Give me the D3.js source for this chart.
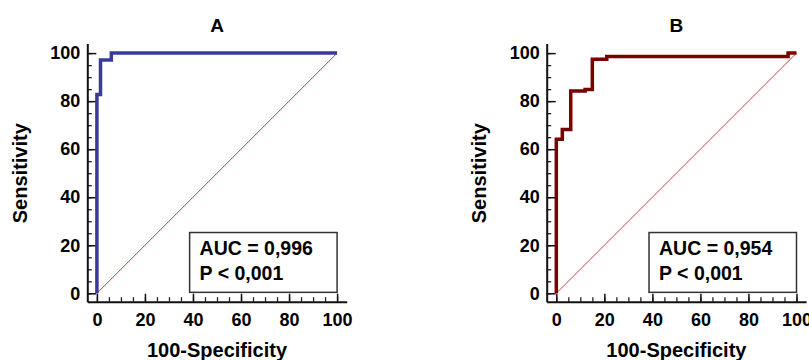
<!DOCTYPE html>
<head>
  <meta charset="utf-8">
  <script src="https://d3js.org/d3.v7.min.js"></script>
  <style>
body { margin: 0; background: #fff; }
svg { font-family: "Liberation Sans", Arial, sans-serif; font-weight: bold; }
  </style>
</head>
<body>
<svg width="809" height="360"></svg>
<script>
// ROC points (100-specificity, sensitivity), drawn as steps
var panelA_fpr = [0, 0, 1.5, 6, 100];
var panelA_tpr = [0, 82.8, 97.1, 100, 100];
var panelB_fpr = [0, 0, 2.5, 6, 12, 15, 21, 96.5, 100];
var panelB_tpr = [0, 64.1, 68.2, 84.2, 84.9, 97.4, 98.6, 100, 100];
var titles = ["A", "B"];
var aucText = ["AUC = 0,996", "AUC = 0,954"];
var pText = ["P < 0,001", "P < 0,001"];
var curveColors = ["#3a3a9c", "#7a0000"];
var majorTicks = [0, 20, 40, 60, 80, 100];
var minorTicks = d3.range(0, 101, 5);

var svg = d3.select("svg");

var panels = [
  {fpr: panelA_fpr, tpr: panelA_tpr, dx: 0},
  {fpr: panelB_fpr, tpr: panelB_tpr, dx: 459.4}
];

panels.forEach(function(p, i) {
  var g = svg.append("g").attr("transform", "translate(" + p.dx + ",0)");

  var x = d3.scaleLinear().domain([-4, 104]).range([87.3, 346.7]);
  var y = d3.scaleLinear().domain([-3.5, 104]).range([301.7, 43.5]);

  // minor ticks
  g.append("g")
    .attr("transform", "translate(" + x(-4) + ",0)")
    .call(d3.axisLeft(y).tickValues(minorTicks).tickSize(-4.5).tickFormat(""))
    .call(function(a) { a.select(".domain").remove(); })
    .selectAll("line").attr("stroke", "#222").attr("stroke-width", 1.3);
  g.append("g")
    .attr("transform", "translate(0," + y(-3.5) + ")")
    .call(d3.axisBottom(x).tickValues(minorTicks).tickSize(-4.5).tickFormat(""))
    .call(function(a) { a.select(".domain").remove(); })
    .selectAll("line").attr("stroke", "#222").attr("stroke-width", 1.3);

  // major axes
  var ya = g.append("g")
    .attr("transform", "translate(" + x(-4) + ",0)")
    .call(d3.axisLeft(y).tickValues(majorTicks).tickSize(-9).tickSizeOuter(0).tickPadding(7));
  var xa = g.append("g")
    .attr("transform", "translate(0," + y(-3.5) + ")")
    .call(d3.axisBottom(x).tickValues(majorTicks).tickSize(-8).tickSizeOuter(0).tickPadding(12));
  [ya, xa].forEach(function(a) {
    a.select(".domain").attr("stroke", "#111").attr("stroke-width", 2);
    a.selectAll(".tick line").attr("stroke", "#111").attr("stroke-width", 1.5);
    a.selectAll("text").attr("font-size", 18).attr("font-weight", "bold")
      .attr("font-family", "'Liberation Sans', Arial, sans-serif").attr("fill", "#000");
  });

  // diagonal reference
  g.append("line")
    .attr("x1", x(0)).attr("y1", y(0))
    .attr("x2", x(100)).attr("y2", y(100))
    .attr("stroke", "#b52a35").attr("stroke-width", 0.9);

  // ROC curve
  var pts = p.fpr.map(function(d, k) { return [d, p.tpr[k]]; });
  var line = d3.line()
    .x(function(d) { return x(d[0]); })
    .y(function(d) { return y(d[1]); })
    .curve(d3.curveStepAfter);
  g.append("path")
    .datum(pts)
    .attr("d", line)
    .attr("fill", "none")
    .attr("stroke", curveColors[i])
    .attr("stroke-width", 3.5);

  // AUC box
  g.append("rect")
    .attr("x", x(38.6)).attr("y", y(25.3))
    .attr("width", x(100) - x(38.6)).attr("height", y(0.4) - y(25.3))
    .attr("fill", "#fff").attr("stroke", "#333").attr("stroke-width", 1.5);
  g.append("text").attr("x", x(38.6) + 10).attr("y", 255)
    .attr("font-size", 19.5).text(aucText[i]);
  g.append("text").attr("x", x(38.6) + 10).attr("y", 279.5)
    .attr("font-size", 19.5).text(pText[i]);

  // titles and axis labels
  g.append("text").attr("x", (x(0) + x(100)) / 2).attr("y", 31.5)
    .attr("text-anchor", "middle").attr("font-size", 19).text(titles[i]);
  g.append("text").attr("x", (x(0) + x(100)) / 2).attr("y", 357)
    .attr("text-anchor", "middle").attr("font-size", 20).text("100-Specificity");
  g.append("text")
    .attr("transform", "translate(27," + (y(0) + y(100)) / 2 + ") rotate(-90)")
    .attr("text-anchor", "middle").attr("font-size", 20).text("Sensitivity");
});
</script>
</body>
